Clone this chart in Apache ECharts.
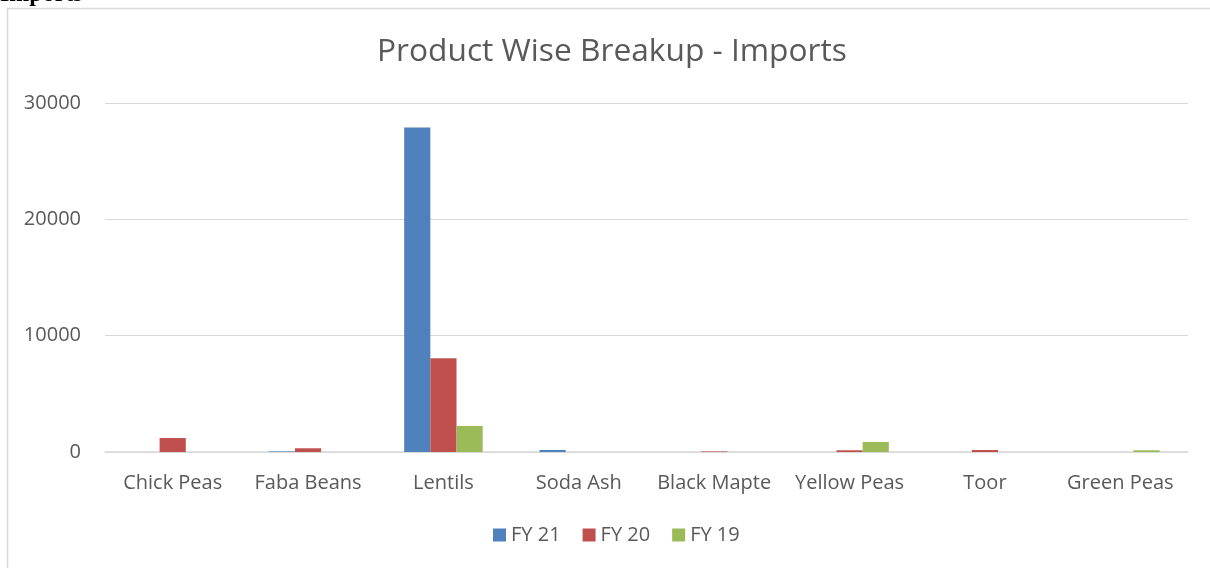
<!DOCTYPE html>
<html>
<head>
<meta charset="utf-8">
<script src="https://cdn.jsdelivr.net/npm/echarts@6/dist/echarts.min.js"></script>
<style>
  html, body { margin: 0; padding: 0; background: #fff; }
  #chart { width: 1210px; height: 568px; }
</style>
</head>
<body>
<div id="chart"></div>
<script>
// categories and values
var products = ["Chick Peas", "Faba Beans", "Lentils", "Soda Ash", "Black Mapte", "Yellow Peas", "Toor", "Green Peas"];
var fy21 = [0, 50, 27900, 170, 0, 0, 0, 0];
var fy20 = [1200, 320, 8050, 0, 50, 150, 170, 0];
var fy19 = [0, 0, 2240, 0, 0, 860, 0, 150];
var yTicks = [0, 10000, 20000, 30000];

var chart = echarts.init(document.getElementById("chart"));
var font = "Open Sans";
var grey = "#595959";

function bar(name, data, color) {
  return {
    name: name,
    type: "bar",
    data: data,
    barGap: "0%",
    barCategoryGap: "42%",
    itemStyle: { color: color }
  };
}

var option = {
  backgroundColor: "#fff",
  animation: false,
  textStyle: { fontFamily: font },
  graphic: [
    {
      type: "rect",
      shape: { x: 7.5, y: 8.5, width: 1220, height: 580 },
      style: { fill: "none", stroke: "#d9d9d9", lineWidth: 1.5 }
    },
    {
      type: "text",
      left: 0,
      top: -17,
      style: { text: "Imports", font: "bold 24px 'Liberation Serif'", fill: "#000" }
    }
  ],
  title: {
    text: "Product Wise Breakup - Imports",
    left: 372,
    top: 31,
    textStyle: { fontFamily: font, fontWeight: "normal", fontSize: 31.7, color: grey }
  },
  legend: {
    bottom: 18,
    left: 488,
    itemWidth: 13,
    itemHeight: 13,
    itemGap: 22,
    icon: "rect",
    textStyle: { fontFamily: font, fontSize: 20, color: grey }
  },
  grid: { left: 105, right: 22, top: 103, bottom: 116 },
  xAxis: {
    type: "category",
    data: products,
    axisLine: { lineStyle: { color: "#d9d9d9", width: 1.5 } },
    axisTick: { show: false },
    axisLabel: { fontFamily: font, fontSize: 20, color: grey, margin: 21, interval: 0 }
  },
  yAxis: {
    type: "value",
    min: yTicks[0],
    max: yTicks[yTicks.length - 1],
    interval: 10000,
    axisLine: { show: false },
    axisTick: { show: false },
    splitLine: { lineStyle: { color: "#d9d9d9", width: 1 } },
    axisLabel: {
      fontFamily: font,
      fontSize: 20,
      color: grey,
      margin: 24,
      formatter: function (v) { return String(v); }
    }
  },
  series: [
    bar("FY 21", fy21, "#4f81bd"),
    bar("FY 20", fy20, "#c0504d"),
    bar("FY 19", fy19, "#9bbb59")
  ]
};

chart.setOption(option);
</script>
</body>
</html>
